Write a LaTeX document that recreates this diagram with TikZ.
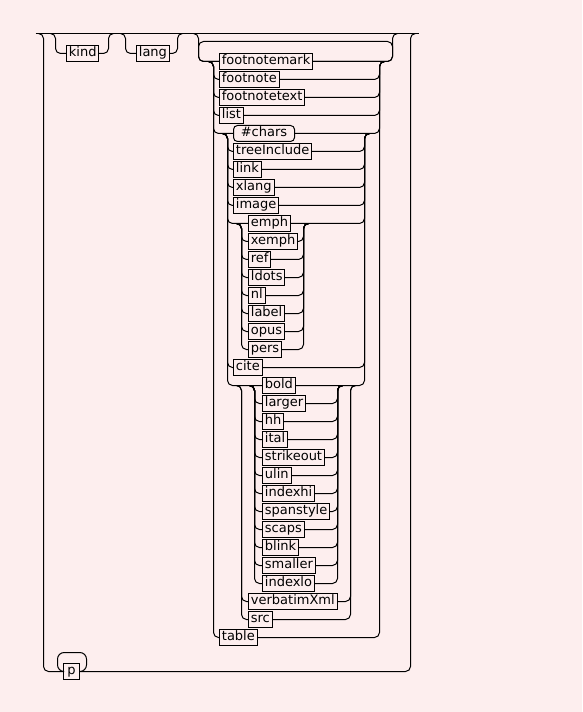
\documentclass[tikz,border=0pt]{standalone}
\usepackage{fontspec}
\setmainfont{DejaVu Sans}
\definecolor{bgpink}{RGB}{253,238,238}
\tikzset{
  rail/.style={line width=0.75pt, rounded corners=3.75pt},
  elem/.style={draw, line width=0.75pt, anchor=west, outer sep=0pt, inner xsep=1.8pt, inner ysep=0pt,
    minimum height=12pt, text height=7.2pt, text depth=2.1pt,
    font=\fontsize{9.75}{11}\selectfont},
  term/.style={elem, rounded corners=3pt, inner xsep=5.5pt}
}
\begin{document}
\begin{tikzpicture}[x=0.75pt,y=-0.75pt]
  \fill[bgpink] (-0.5,-0.5) rectangle (581.5,711.5);

  % junction points
  \coordinate (start) at (35,33);
  \coordinate (end) at (418,33);
  \coordinate (loopL) at (43,33);
  \coordinate (loopR) at (410,33);
  \coordinate (kindL) at (55,33);
  \coordinate (kindR) at (108,33);
  \coordinate (langL) at (125,33);
  \coordinate (langR) at (177,33);
  \coordinate (grpL) at (198,33);
  \coordinate (grpR) at (392,33);
  \coordinate (backL) at (198,41);
  \coordinate (backR) at (392,41);
  \coordinate (pBL) at (57,671);
  \coordinate (pTL) at (57,652);
  \coordinate (pTR) at (86,652);
  \coordinate (pBR) at (86,671);

  \coordinate (c1in) at (208,61);  \coordinate (l1) at (213,61);
  \coordinate (r1) at (379,61);    \coordinate (c1out) at (384,61);
  \coordinate (c2in) at (222,133); \coordinate (l2) at (227,133);
  \coordinate (r2) at (364,133);   \coordinate (c2out) at (369,133);
  \coordinate (c3in) at (236,223); \coordinate (l3) at (241,223);
  \coordinate (r3) at (303,223);   \coordinate (c3out) at (308,223);
  \coordinate (c4in) at (236,385); \coordinate (l4) at (241,385);
  \coordinate (r4) at (350,385);   \coordinate (c4out) at (355,385);
  \coordinate (c5in) at (249,385); \coordinate (l5) at (254,385);
  \coordinate (r5) at (337,385);   \coordinate (c5out) at (342,385);

  \node[elem] (kind) at (66,53) {kind};
  \node[elem] (lang) at (136,53) {lang};
  \node[elem] (fnm) at (219,61) {footnotemark};
  \node[elem] (fn) at (219,79) {footnote};
  \node[elem] (fnt) at (219,97) {footnotetext};
  \node[elem] (list) at (219,115) {list};
  \node[term] (chars) at (233,133) {\#chars};
  \node[elem] (treeinc) at (233,151) {treeInclude};
  \node[elem] (link) at (233,169) {link};
  \node[elem] (xlang) at (233,187) {xlang};
  \node[elem] (image) at (233,205) {image};
  \node[elem] (emph) at (248,223) {emph};
  \node[elem] (xemph) at (248,241) {xemph};
  \node[elem] (ref) at (248,259) {ref};
  \node[elem] (ldots) at (248,277) {ldots};
  \node[elem] (nl) at (248,295) {nl};
  \node[elem] (label) at (248,313) {label};
  \node[elem] (opus) at (248,331) {opus};
  \node[elem] (pers) at (248,349) {pers};
  \node[elem] (cite) at (233,367) {cite};
  \node[elem] (bold) at (262,385) {bold};
  \node[elem] (larger) at (262,403) {larger};
  \node[elem] (hh) at (262,421) {hh};
  \node[elem] (ital) at (262,439) {ital};
  \node[elem] (strike) at (262,457) {strikeout};
  \node[elem] (ulin) at (262,475) {ulin};
  \node[elem] (indexhi) at (262,493) {indexhi};
  \node[elem] (spanstyle) at (262,511) {spanstyle};
  \node[elem] (scaps) at (262,529) {scaps};
  \node[elem] (blink) at (262,547) {blink};
  \node[elem] (smaller) at (262,565) {smaller};
  \node[elem] (indexlo) at (262,583) {indexlo};
  \node[elem] (verbxml) at (248,601) {verbatimXml};
  \node[elem] (src) at (248,619) {src};
  \node[elem] (table) at (219,637) {table};
  \node[elem, minimum width=12pt] (p) at (63,671) {p};

  % top level
  \draw[rail] (start) -- (end);
  \draw[rail] (loopL) +(-5,0) -- (loopL) |- (p.west);
  \draw[rail] (p.east) -| (loopR) -- +(5,0);
  \draw[rail, rounded corners=5pt] (p.west) -- (pBL) -- (pTL) -- (pTR) -- (pBR) -- (p.east);
  \draw[rail] (kindL) +(-5,0) -- (kindL) |- (kind.west);
  \draw[rail] (kind.east) -| (kindR) -- +(5,0);
  \draw[rail] (langL) +(-5,0) -- (langL) |- (lang.west);
  \draw[rail] (lang.east) -| (langR) -- +(5,0);
  \draw[rail] (grpL) +(-5,0) -- (grpL) |- (fnm.west);
  \draw[rail] (fnm.east) -| (grpR) -- +(5,0);
  \draw[rail] (fnm.west) -| (backL) -- (backR) |- (fnm.east);

  % choice 1
  \foreach \n in {fn,fnt,list,chars,table}{
    \draw[rail] (c1in) -- (l1) |- (\n.west);
    \draw[rail] (\n.east) -| (r1) -- (c1out);
  }
  % choice 2
  \foreach \n in {treeinc,link,xlang,image,emph,cite,bold}{
    \draw[rail] (c2in) -- (l2) |- (\n.west);
    \draw[rail] (\n.east) -| (r2) -- (c2out);
  }
  % choice 3
  \foreach \n in {xemph,ref,ldots,nl,label,opus,pers}{
    \draw[rail] (c3in) -- (l3) |- (\n.west);
    \draw[rail] (\n.east) -| (r3) -- (c3out);
  }
  % choice 4
  \foreach \n in {verbxml,src}{
    \draw[rail] (c4in) -- (l4) |- (\n.west);
    \draw[rail] (\n.east) -| (r4) -- (c4out);
  }
  % choice 5
  \foreach \n in {larger,hh,ital,strike,ulin,indexhi,spanstyle,scaps,blink,smaller,indexlo}{
    \draw[rail] (c5in) -- (l5) |- (\n.west);
    \draw[rail] (\n.east) -| (r5) -- (c5out);
  }
\end{tikzpicture}
\end{document}
